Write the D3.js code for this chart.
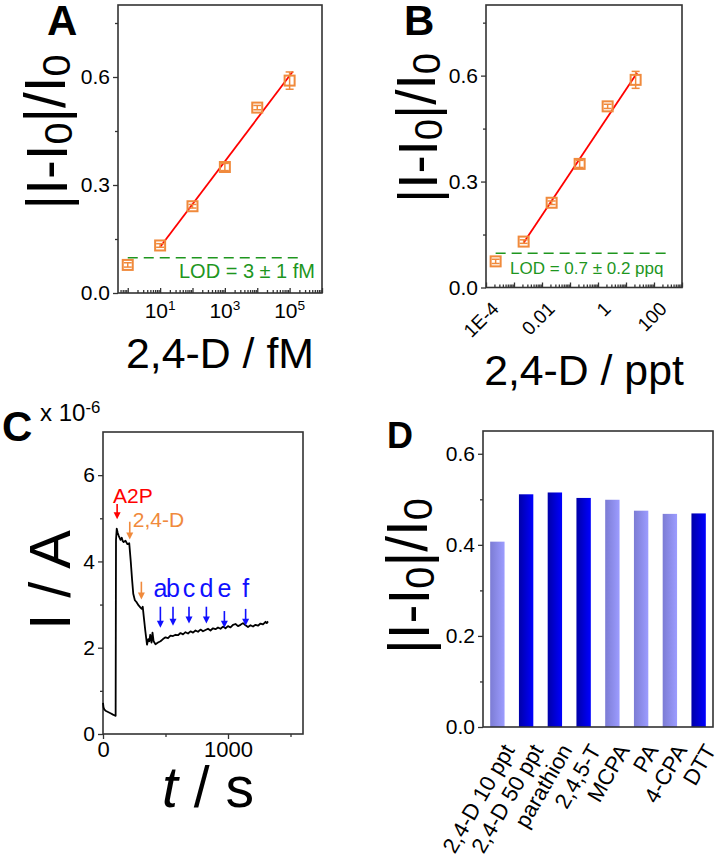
<!DOCTYPE html>
<html>
<head>
<meta charset="utf-8">
<script src="https://cdn.jsdelivr.net/npm/d3@7"></script>
<style>
  html, body { margin: 0; padding: 0; background: #fff; }
  svg text { font-family: 'Liberation Sans', Arial, sans-serif; }
</style>
</head>
<body>
<div id="chart"></div>
<script>
'use strict';

// ---- data ----
// A: calibration vs concentration (fM)
var concFM = [1, 10, 100, 1000, 10000, 100000];
var respA = [0.078, 0.132, 0.241, 0.350, 0.515, 0.590];
var errA = [0.006, 0.005, 0.005, 0.010, 0.006, 0.024];
var fitRangeA = [10, 1.25e5];
var lodA = 0.098;
var lodRangeA = [1, 2.6e5];

// B: same, concentration in ppt
var concPPT = [2.21e-4, 2.21e-3, 2.21e-2, 0.221, 2.21, 22.1];
var respB = [0.074, 0.130, 0.240, 0.350, 0.513, 0.588];
var errB = [0.006, 0.005, 0.005, 0.010, 0.006, 0.024];
var fitRangeB = [2.21e-3, 25];
var lodB = 0.097;
var lodRangeB = [2.21e-4, 290];
var ticksB = [1e-4, 0.01, 1, 100];
var tickLabelsB = ['1E-4', '0.01', '1', '100'];

// C: amperometric trace (t in s, I in 1e-6 A)
var timeC = [0, 4, 10, 20, 40, 60, 80, 95, 101, 104, 110, 118, 125, 132, 140, 150, 158, 165, 180, 195, 210,
  222, 232, 242, 255, 270, 285, 300, 310, 318, 325, 338, 352, 362, 370, 378, 388, 396, 405, 420, 440, 460,
  480, 500, 520, 540, 560, 580, 600, 620, 640, 660, 680, 700, 720, 740, 760, 780, 800, 820, 840, 860, 880,
  900, 920, 940, 960, 980, 1000, 1020, 1040, 1060, 1080, 1100, 1120, 1140, 1160, 1180, 1200, 1220, 1240,
  1260, 1280, 1300, 1310, 1320];
var currentC = [0.72, 0.62, 0.57, 0.54, 0.51, 0.48, 0.45, 0.43, 0.42, 4.50, 4.76, 4.66, 4.60, 4.55, 4.50, 4.55, 4.47, 4.45, 4.48, 4.40, 4.42,
  4.00, 3.60, 3.25, 3.10, 3.05, 2.98, 2.93, 2.90, 2.95, 2.75, 2.40, 2.07, 2.20, 2.15, 2.30, 2.12, 2.35, 2.15, 2.08, 2.12, 2.15,
  2.20, 2.24, 2.22, 2.28, 2.27, 2.30, 2.29, 2.34, 2.31, 2.36, 2.33, 2.38, 2.35, 2.40, 2.37, 2.42, 2.38, 2.41, 2.44, 2.40, 2.45,
  2.43, 2.47, 2.44, 2.49, 2.45, 2.50, 2.47, 2.53, 2.55, 2.50, 2.53, 2.57, 2.52, 2.48, 2.52, 2.49, 2.53, 2.51,
  2.56, 2.54, 2.60, 2.57, 2.61];
var arrowBlueT = [459, 560, 688, 827, 971, 1141];
var arrowBlueTop = [2.95, 2.95, 2.95, 2.95, 2.85, 2.90];
var arrowBlueTip = [2.46, 2.51, 2.56, 2.56, 2.46, 2.51];
var arrowBlueLabels = ['a', 'b', 'c', 'd', 'e', 'f'];

// D: selectivity
var interferents = ['2,4-D 10 ppt', '2,4-D 50 ppt', 'parathion', '2,4,5-T', 'MCPA', 'PA', '4-CPA', 'DTT'];
var respD = [0.407, 0.511, 0.515, 0.503, 0.499, 0.475, 0.468, 0.469];
var darkBar = [false, true, true, true, false, false, false, true];

// ---- drawing ----
var W = 721, H = 863;
var FONT = "'Liberation Sans', Arial, sans-serif";
var AXIS = '#333';
var ORANGE = '#f08a3c';
var GREEN = '#1e961e';

var svg = d3.select('#chart').append('svg')
  .attr('width', W).attr('height', H)
  .attr('viewBox', [0, 0, W, H].join(' '));

var defs = svg.append('defs');
function gradient(id, c0, c1) {
  var g = defs.append('linearGradient').attr('id', id)
    .attr('x1', '0%').attr('x2', '100%').attr('y1', '0%').attr('y2', '0%');
  g.append('stop').attr('offset', '0%').attr('stop-color', c0);
  g.append('stop').attr('offset', '100%').attr('stop-color', c1);
}
gradient('gLight', '#7c7cd4', '#9c9cff');
gradient('gDark', '#0000a8', '#0000ff');

// scale a text's font so that its length matches the picture
function fitText(t, fs, len) {
  var w = t.node().getBBox().width;
  if (w > 0) t.style('font-size', (fs * len / w) + 'px');
}

function box(x0, x1, y0, y1) {
  svg.append('rect')
    .attr('x', x0).attr('y', y0)
    .attr('width', x1 - x0).attr('height', y1 - y0)
    .attr('fill', 'none').attr('stroke', AXIS).attr('stroke-width', 1.6);
}

function styleAxis(g, fs) {
  g.select('.domain').remove();
  g.selectAll('.tick line').attr('stroke', AXIS).attr('stroke-width', 1.3);
  g.selectAll('.tick text').attr('fill', '#000').style('font-size', fs + 'px').style('font-family', FONT);
}

function yAxis(y, x0, major, minor, fmt, fs) {
  var g = svg.append('g').attr('transform', 'translate(' + x0 + ',0)')
    .call(d3.axisLeft(y).tickValues(major).tickSize(5).tickPadding(3).tickFormat(fmt));
  styleAxis(g, fs);
  var m = svg.append('g').attr('transform', 'translate(' + x0 + ',0)')
    .call(d3.axisLeft(y).tickValues(minor).tickSize(3).tickFormat(''));
  styleAxis(m, fs);
}

function logTicks(x, y0) {
  var dom = x.domain();
  var lo = Math.floor(Math.log10(dom[0])), hi = Math.ceil(Math.log10(dom[1]));
  var major = [], minor = [];
  for (var e = lo; e <= hi; e++) {
    var p = Math.pow(10, e);
    if (p >= dom[0] * 0.999 && p <= dom[1]) major.push(p);
    for (var k = 2; k < 10; k++) {
      if (k * p > dom[0] && k * p < dom[1]) minor.push(k * p);
    }
  }
  var g = svg.append('g').attr('transform', 'translate(0,' + y0 + ')')
    .call(d3.axisBottom(x).tickValues(major).tickSize(-5).tickFormat(''));
  styleAxis(g, 10);
  var m = svg.append('g').attr('transform', 'translate(0,' + y0 + ')')
    .call(d3.axisBottom(x).tickValues(minor).tickSize(-3).tickFormat(''));
  styleAxis(m, 10);
}

function ratioTitle(x, y, len) {
  var t = svg.append('text')
    .attr('transform', 'translate(' + x + ',' + y + ') rotate(-90)')
    .attr('text-anchor', 'middle')
    .style('font-size', '56px');
  t.append('tspan').text('|I-I');
  t.append('tspan').attr('dy', '0.12em').style('font-size', '0.7em').text('0');
  t.append('tspan').attr('dy', '-0.12em').text('|/I');
  t.append('tspan').attr('dy', '0.12em').style('font-size', '0.7em').text('0');
  fitText(t, 56, len);
}

function panelLetter(x, y, s, fs) {
  svg.append('text').attr('x', x).attr('y', y)
    .style('font-size', fs + 'px').style('font-weight', 'bold').text(s);
}

function calibration(opt) {
  var x = d3.scaleLog().domain(opt.xDomain).range([opt.x0, opt.x1]);
  var y = d3.scaleLinear().domain([0, 0.8]).range([opt.y1, opt.y0]);

  box(opt.x0, opt.x1, opt.y0, opt.y1);
  yAxis(y, opt.x0, [0, 0.3, 0.6], [0.15, 0.45, 0.75], d3.format('.1f'), 21);
  logTicks(x, opt.y1);

  // LOD dashed line + label
  svg.append('line')
    .attr('x1', x(opt.lodRange[0])).attr('x2', x(opt.lodRange[1]))
    .attr('y1', y(opt.lod)).attr('y2', y(opt.lod))
    .attr('stroke', GREEN).attr('stroke-width', 1.6).attr('stroke-dasharray', '10,6');
  svg.append('text')
    .attr('x', opt.lodTextX).attr('y', opt.lodTextY)
    .attr('text-anchor', opt.lodAnchor)
    .attr('fill', GREEN).style('font-size', opt.lodFs + 'px')
    .text(opt.lodText);

  // linear fit (least squares on log10 conc, points 2..6)
  var xs = opt.conc.slice(1).map(Math.log10), ys = opt.resp.slice(1);
  var mx = d3.mean(xs), my = d3.mean(ys);
  var b = d3.sum(xs, function(v, i) { return (v - mx) * (ys[i] - my); }) /
          d3.sum(xs, function(v) { return (v - mx) * (v - mx); });
  var a = my - b * mx;
  svg.append('line')
    .attr('x1', x(opt.fitRange[0])).attr('y1', y(a + b * Math.log10(opt.fitRange[0])))
    .attr('x2', x(opt.fitRange[1])).attr('y2', y(a + b * Math.log10(opt.fitRange[1])))
    .attr('stroke', '#ff0000').attr('stroke-width', 1.8);

  // error bars
  var eb = svg.append('g').attr('stroke', ORANGE).attr('stroke-width', 1.5);
  opt.conc.forEach(function(c, i) {
    var cx = x(c), t = y(opt.resp[i] + opt.err[i]), bt = y(opt.resp[i] - opt.err[i]);
    eb.append('line').attr('x1', cx).attr('x2', cx).attr('y1', t).attr('y2', bt);
    eb.append('line').attr('x1', cx - 4).attr('x2', cx + 4).attr('y1', t).attr('y2', t);
    eb.append('line').attr('x1', cx - 4).attr('x2', cx + 4).attr('y1', bt).attr('y2', bt);
  });

  // hollow square markers
  svg.append('g').selectAll('rect')
    .data(opt.conc)
    .join('rect')
    .attr('x', function(d) { return x(d) - 5; })
    .attr('y', function(d, i) { return y(opt.resp[i]) - 5; })
    .attr('width', 10).attr('height', 10)
    .attr('fill', 'none').attr('stroke', ORANGE).attr('stroke-width', 2);

  return x;
}

// ---- Panel A ----
var xA = calibration({
  x0: 118, x1: 322, y0: 5, y1: 293,
  xDomain: [0.5, 1e6],
  conc: concFM, resp: respA, err: errA, fitRange: fitRangeA,
  lod: lodA, lodRange: lodRangeA,
  lodText: 'LOD = 3 \u00b1 1 fM', lodTextX: 315, lodTextY: 278, lodAnchor: 'end', lodFs: 20
});
[10, 1000, 100000].forEach(function(v) {
  var t = svg.append('text')
    .attr('x', xA(v)).attr('y', 318)
    .attr('text-anchor', 'middle').style('font-size', '21px');
  t.append('tspan').text('10');
  t.append('tspan').attr('dy', '-0.55em').style('font-size', '0.65em').text(String(Math.log10(v)));
});
fitText(svg.append('text').attr('x', 220).attr('y', 368).attr('text-anchor', 'middle')
  .style('font-size', '42px').text('2,4-D / fM'), 42, 188);
ratioTitle(67, 132, 155);
panelLetter(47, 35, 'A', 42);

// ---- Panel B ----
var xB = calibration({
  x0: 486, x1: 682, y0: 5, y1: 287.5,
  xDomain: [1e-4, 1e3],
  conc: concPPT, resp: respB, err: errB, fitRange: fitRangeB,
  lod: lodB, lodRange: lodRangeB,
  lodText: 'LOD = 0.7 \u00b1 0.2 ppq', lodTextX: 510, lodTextY: 274, lodAnchor: 'start', lodFs: 17
});
ticksB.forEach(function(v, i) {
  svg.append('text')
    .attr('transform', 'translate(' + (xB(v) + 14) + ',310) rotate(-45)')
    .attr('text-anchor', 'end').style('font-size', '19px')
    .text(tickLabelsB[i]);
});
fitText(svg.append('text').attr('x', 584).attr('y', 385).attr('text-anchor', 'middle')
  .style('font-size', '42px').text('2,4-D / ppt'), 42, 200);
ratioTitle(437, 128, 150);
panelLetter(404, 35, 'B', 42);

// ---- Panel C ----
(function() {
  var x0 = 103, x1 = 303, y0 = 432, y1 = 734;
  var x = d3.scaleLinear().domain([0, 1600]).range([x0, x1]);
  var y = d3.scaleLinear().domain([0, 7]).range([y1, y0]);

  box(x0, x1, y0, y1);
  yAxis(y, x0, [0, 2, 4, 6], [1, 3, 5], d3.format('d'), 21);
  var gx = svg.append('g').attr('transform', 'translate(0,' + y1 + ')')
    .call(d3.axisBottom(x).tickValues([0, 1000]).tickSize(5).tickPadding(2).tickFormat(d3.format('d')));
  styleAxis(gx, 22);
  var mx = svg.append('g').attr('transform', 'translate(0,' + y1 + ')')
    .call(d3.axisBottom(x).tickValues([500, 1500]).tickSize(3).tickFormat(''));
  styleAxis(mx, 22);

  var line = d3.line()
    .x(function(d, i) { return x(timeC[i]); })
    .y(function(d) { return y(d); });
  svg.append('path').datum(currentC)
    .attr('d', line).attr('fill', 'none')
    .attr('stroke', '#000').attr('stroke-width', 1.8).attr('stroke-linejoin', 'round');

  function arrow(t, top, tip, color) {
    var ax = x(t), yt = y(top), yp = y(tip);
    svg.append('line').attr('x1', ax).attr('x2', ax).attr('y1', yt).attr('y2', yp - 5)
      .attr('stroke', color).attr('stroke-width', 1.6);
    svg.append('path')
      .attr('d', 'M' + (ax - 3.5) + ',' + (yp - 7) + 'L' + (ax + 3.5) + ',' + (yp - 7) + 'L' + ax + ',' + yp + 'Z')
      .attr('fill', color);
  }

  arrow(113, 5.33, 4.98, '#ff0000');
  svg.append('text').attr('x', x(80)).attr('y', y(5.36))
    .attr('fill', '#ff0000').style('font-size', '21px').text('A2P');
  arrow(214, 4.92, 4.51, ORANGE);
  svg.append('text').attr('x', x(238)).attr('y', y(4.79))
    .attr('fill', ORANGE).style('font-size', '21px').text('2,4-D');
  arrow(307, 3.53, 3.12, ORANGE);

  arrowBlueT.forEach(function(t, i) {
    arrow(t, arrowBlueTop[i], arrowBlueTip[i], '#1010ff');
    svg.append('text').attr('x', x(t)).attr('y', y(3.18))
      .attr('text-anchor', 'middle').attr('fill', '#1010ff')
      .style('font-size', '25px').text(arrowBlueLabels[i]);
  });

  var ty = svg.append('text').attr('x', 40).attr('y', 421).style('font-size', '24px');
  ty.append('tspan').text('x 10');
  ty.append('tspan').attr('dy', '-0.5em').style('font-size', '0.7em').text('-6');

  fitText(svg.append('text')
    .attr('transform', 'translate(70,580) rotate(-90)')
    .attr('text-anchor', 'middle').style('font-size', '58px').text('I / A'), 58, 100);

  var tx = svg.append('text').attr('x', 208).attr('y', 807)
    .attr('text-anchor', 'middle').style('font-size', '56px');
  tx.append('tspan').style('font-style', 'italic').text('t');
  tx.append('tspan').text(' / s');
  fitText(tx, 56, 92);

  panelLetter(2, 441, 'C', 42);
})();

// ---- Panel D ----
(function() {
  var x0 = 483, x1 = 713, y0 = 431, y1 = 727;
  var x = d3.scaleBand().domain(interferents).range([x0, x1])
    .paddingInner(0.5).paddingOuter(0.25);
  var y = d3.scaleLinear().domain([0, 0.65]).range([y1, y0]);

  svg.append('g').selectAll('rect')
    .data(respD)
    .join('rect')
    .attr('x', function(d, i) { return x(interferents[i]); })
    .attr('y', function(d) { return y(d); })
    .attr('width', x.bandwidth())
    .attr('height', function(d) { return y(0) - y(d); })
    .attr('fill', function(d, i) { return darkBar[i] ? 'url(#gDark)' : 'url(#gLight)'; });

  box(x0, x1, y0, y1);
  yAxis(y, x0, [0, 0.2, 0.4, 0.6], [0.1, 0.3, 0.5], d3.format('.1f'), 21);

  interferents.forEach(function(s) {
    var cx = x(s) + x.bandwidth() / 2;
    svg.append('text')
      .attr('transform', 'translate(' + (cx + 18) + ',' + (y1 + 23) + ') rotate(-60)')
      .attr('text-anchor', 'end').style('font-size', '22px').text(s);
  });

  ratioTitle(429, 576, 156);
  panelLetter(387, 448, 'D', 36);
})();
</script>
</body>
</html>
